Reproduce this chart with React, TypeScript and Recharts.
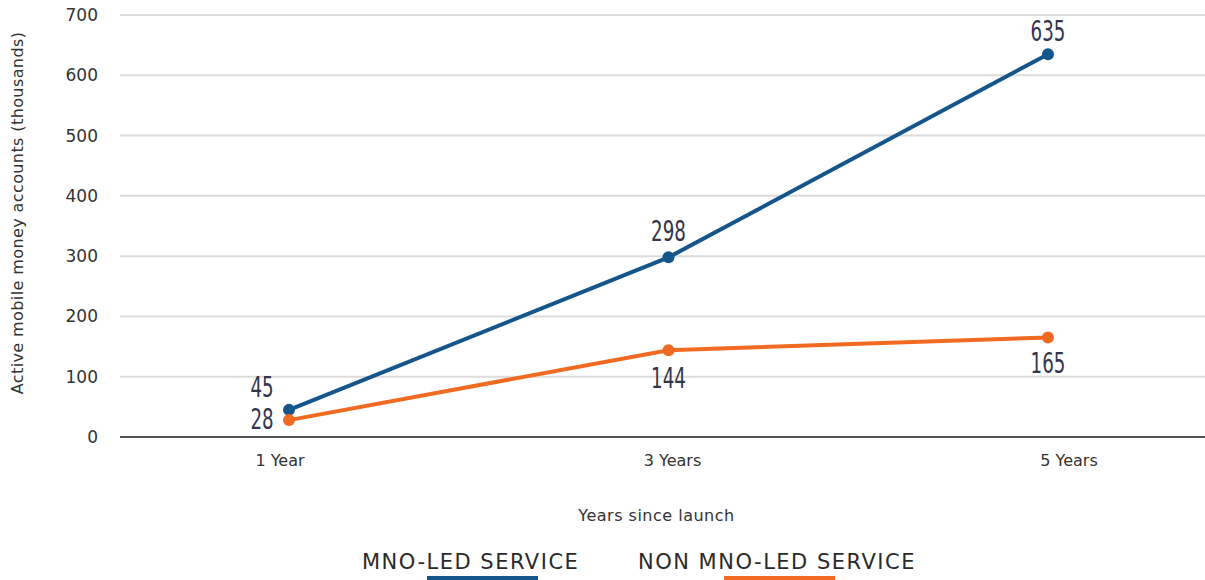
import React from "react";
import {
  LineChart,
  Line,
  XAxis,
  YAxis,
  CartesianGrid,
  Legend,
  LabelList,
} from "recharts";

const YEARS = ["1 Year", "3 Years", "5 Years"];
const MNO_LED = [45, 298, 635];
const NON_MNO_LED = [28, 144, 165];
const Y_TICKS = [0, 100, 200, 300, 400, 500, 600, 700];

const BLUE = "#14558c";
const ORANGE = "#f06a22";
const LABEL_COLOR = "#34344a";
const AXIS_FONT = "'DejaVu Sans', sans-serif";

const data = YEARS.map((year, i) => ({
  year,
  mno: MNO_LED[i],
  nonMno: NON_MNO_LED[i],
}));

// where each value label sits relative to its point
const BLUE_OFFSETS = [
  [-27, -22],
  [0, -26],
  [0, -23],
];
const ORANGE_OFFSETS = [
  [-27, -1],
  [0, 28],
  [0, 26],
];
// the category names are not centred under the points in the original
const TICK_SHIFT = [-9, 4, 21];

function makeLabel(offsets: number[][]) {
  return (props: any) => {
    const { x, y, value, index } = props;
    const [dx, dy] = offsets[index] || [0, -20];
    const text = String(value);
    return (
      <text
        x={x + dx}
        y={y + dy}
        textAnchor="middle"
        dominantBaseline="central"
        fill={LABEL_COLOR}
        fontFamily="'Liberation Sans Narrow', 'DejaVu Sans Condensed', sans-serif"
        fontSize={28}
        textLength={text.length * 11.6}
        lengthAdjust="spacingAndGlyphs"
      >
        {text}
      </text>
    );
  };
}

function YearTick(props: any) {
  const { x, y, payload, index } = props;
  return (
    <text
      x={x + (TICK_SHIFT[index] || 0)}
      y={y}
      dy={12}
      textAnchor="middle"
      fill="#333"
      fontSize={16}
      fontFamily={AXIS_FONT}
    >
      {payload.value}
    </text>
  );
}

function renderLegend() {
  const items = [
    { label: "MNO-LED SERVICE", color: BLUE, barLeft: 65, width: 218 },
    { label: "NON MNO-LED SERVICE", color: ORANGE, barLeft: 86, width: 280 },
  ];
  return (
    <div
      style={{
        display: "flex",
        justifyContent: "flex-start",
        paddingLeft: 362,
        gap: 58,
        fontFamily: AXIS_FONT,
        color: "#2a2a2a",
      }}
    >
      {items.map((it) => (
        <div key={it.label} style={{ position: "relative", width: it.width, height: 45 }}>
          <div
            style={{
              fontSize: 21,
              letterSpacing: 1.5,
              lineHeight: "24px",
              paddingTop: 15,
              whiteSpace: "nowrap",
            }}
          >
            {it.label}
          </div>
          <div
            style={{
              position: "absolute",
              left: it.barLeft,
              top: 41,
              width: 111,
              height: 4,
              background: it.color,
            }}
          />
        </div>
      ))}
    </div>
  );
}

export default function App() {
  return (
    <div style={{ position: "absolute", left: 0, top: 0, width: 1205, height: 580, background: "#fff" }}>
      <LineChart
        width={1205}
        height={580}
        data={data}
        margin={{ top: 15, right: 0, bottom: 0, left: 0 }}
      >
        <CartesianGrid vertical={false} stroke="#dcdcdc" strokeWidth={2} />
        <XAxis
          dataKey="year"
          height={98}
          padding={{ left: 169, right: 157 }}
          axisLine={{ stroke: "#555", strokeWidth: 2 }}
          tickLine={false}
          tickMargin={11}
          tick={<YearTick />}
          label={{
            value: "Years since launch",
            position: "insideBottom",
            offset: 10,
            dy: -4,
            dx: -6,
            fill: "#333",
            fontSize: 16,
            letterSpacing: 0.5,
            fontFamily: AXIS_FONT,
          }}
        />
        <YAxis
          width={120}
          domain={[0, 700]}
          ticks={Y_TICKS}
          axisLine={false}
          tickLine={false}
          tickSize={0}
          tickMargin={22}
          tick={{ fill: "#333", fontSize: 17, fontFamily: AXIS_FONT }}
          label={{
            value: "Active mobile money accounts (thousands)",
            angle: -90,
            position: "insideLeft",
            offset: 0,
            dx: 17,
            dy: -13,
            style: { textAnchor: "middle" },
            fill: "#333",
            fontSize: 16,
            letterSpacing: 0.4,
            fontFamily: AXIS_FONT,
          }}
        />
        <Legend verticalAlign="bottom" height={45} content={renderLegend} />
        <Line
          type="linear"
          dataKey="mno"
          name="MNO-LED SERVICE"
          stroke={BLUE}
          strokeWidth={4}
          dot={{ r: 6, fill: BLUE, stroke: BLUE, strokeWidth: 0 }}
          isAnimationActive={false}
        >
          <LabelList dataKey="mno" content={makeLabel(BLUE_OFFSETS)} />
        </Line>
        <Line
          type="linear"
          dataKey="nonMno"
          name="NON MNO-LED SERVICE"
          stroke={ORANGE}
          strokeWidth={4}
          dot={{ r: 6, fill: ORANGE, stroke: ORANGE, strokeWidth: 0 }}
          isAnimationActive={false}
        >
          <LabelList dataKey="nonMno" content={makeLabel(ORANGE_OFFSETS)} />
        </Line>
      </LineChart>
    </div>
  );
}
